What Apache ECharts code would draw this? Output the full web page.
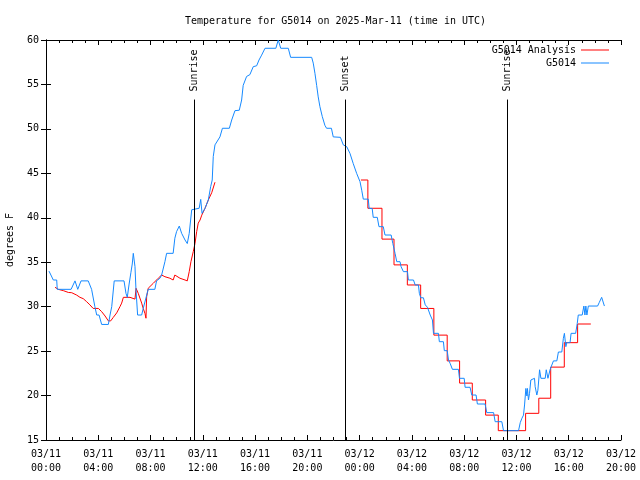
<!DOCTYPE html>
<html>
<head>
<meta charset="utf-8">
<script src="https://cdn.jsdelivr.net/npm/echarts@6/dist/echarts.min.js"></script>
<style>
  html, body { margin: 0; padding: 0; background: #fff; }
  #chart { width: 640px; height: 480px; }
</style>
</head>
<body>
<div id="chart"></div>
<script>
// hours since 2025-03-11 00:00 UTC
const xTickLabels = ['03/11\n00:00','03/11\n04:00','03/11\n08:00','03/11\n12:00','03/11\n16:00','03/11\n20:00',
                     '03/12\n00:00','03/12\n04:00','03/12\n08:00','03/12\n12:00','03/12\n16:00','03/12\n20:00'];

// G5014 Analysis (early part, continuous line)
const analysisEarly = [
  [0.69,32.18],[0.94,31.95],[1.33,31.8],[1.71,31.6],[1.97,31.57],[2.35,31.3],[2.6,31.05],[2.85,30.9],
  [3.11,30.56],[3.36,30.2],[3.61,29.8],[4.01,29.8],[4.26,29.44],[4.52,28.95],[4.77,28.4],[4.95,28.4],
  [5.15,28.8],[5.41,29.3],[5.66,30.0],[5.79,30.4],[5.92,31.05],[6.43,31.05],[6.81,30.85],[6.89,32.07],
  [7.06,31.5],[7.32,30.4],[7.44,29.8],[7.57,29.25],[7.65,28.7],[7.7,31.1],[7.82,32.07],[8.21,32.63],
  [8.59,33.2],[8.85,33.56],[9.1,33.37],[9.48,33.2],[9.73,33.0],[9.86,33.56],[10.25,33.2],[10.64,33.0],
  [10.81,32.9],[10.96,33.94],[11.09,35.06],[11.27,36.2],[11.4,37.1],[11.53,38.44],[11.65,39.4],
  [11.79,39.75],[11.92,40.3],[12.17,41.07],[12.42,42.0],[12.68,42.82],[12.93,44.0]
];

// G5014 Analysis (later part, hourly steps: [start hour, value])
const analysisSteps = [
  [24.1,44.25],[24.63,41.07],[25.71,37.6],[26.63,34.7],[27.65,32.44],[28.67,29.8],[29.68,26.8],
  [30.7,23.9],[31.65,21.4],[32.62,19.5],[33.64,17.8],[34.61,16.05],[36.7,18.0],[37.71,19.7],
  [38.62,23.2],[39.66,25.95],[40.68,28.05],[41.69,28.05]
];

// G5014 observations
const obs = [
  [0.23,34.0],[0.56,33.0],[0.82,33.0],[0.86,31.95],[1.92,31.95],[2.22,32.9],[2.43,31.95],[2.68,32.9],
  [3.23,32.9],[3.49,31.95],[3.74,30.0],[3.88,29.06],[4.06,29.06],[4.26,28.0],[4.77,28.0],[4.9,29.06],
  [5.03,30.0],[5.22,32.9],[5.97,32.9],[6.12,31.5],[6.22,31.05],[6.35,32.44],[6.5,33.87],[6.6,34.8],
  [6.68,36.0],[6.81,34.5],[6.88,32.07],[7.01,29.06],[7.32,29.06],[7.44,29.8],[7.82,31.95],[8.33,31.95],
  [8.46,32.9],[8.72,33.2],[8.85,33.56],[9.1,35.06],[9.23,36.0],[9.73,36.0],[9.86,37.7],[9.99,38.44],
  [10.2,39.07],[10.38,38.25],[10.64,37.5],[10.81,37.1],[10.96,38.25],[11.15,40.9],[11.22,41.07],
  [11.72,41.07],[11.84,42.07],[11.94,40.5],[12.17,41.07],[12.42,42.0],[12.6,43.5],[12.72,44.25],
  [12.8,46.9],[12.93,48.2],[13.31,49.1],[13.5,50.07],[14.03,50.07],[14.21,51.0],[14.46,52.05],
  [14.79,52.1],[14.97,53.25],[15.09,54.9],[15.35,55.9],[15.6,56.1],[15.86,57.0],[16.12,57.1],
  [16.3,57.75],[16.5,58.3],[16.76,59.07],[17.59,59.07],[17.77,60.0],[17.96,59.07],[18.54,59.07],
  [18.72,58.05],[20.33,58.05],[20.45,57.4],[20.58,56.25],[20.71,54.9],[20.83,53.6],[20.96,52.5],
  [21.14,51.4],[21.34,50.4],[21.47,50.07],[21.84,50.07],[21.98,49.1],[22.53,49.05],[22.75,48.2],
  [23.01,48.0],[23.26,47.25],[23.51,46.1],[23.77,45.0],[24.03,44.06],[24.16,43.1],[24.28,42.1],
  [24.66,42.1],[24.73,41.05],[24.96,41.05],[25.04,40.05],[25.35,40.05],[25.48,39.0],[25.81,39.0],
  [25.94,38.06],[26.41,38.06],[26.54,37.1],[26.71,36.0],[26.84,35.06],[27.09,35.06],[27.17,34.5],
  [27.35,33.94],[27.66,33.94],[27.73,33.0],[28.12,33.0],[28.25,32.44],[28.5,32.44],[28.57,31.5],
  [28.68,31.0],[28.88,31.0],[29.02,30.2],[29.19,29.93],[29.4,29.06],[29.57,28.5],[29.65,27.0],
  [30.03,27.0],[30.1,26.06],[30.41,26.06],[30.48,25.05],[30.7,25.05],[30.8,24.0],[30.93,23.6],
  [31.1,22.95],[31.56,22.95],[31.64,21.94],[32.0,21.94],[32.07,20.93],[32.45,20.93],[32.58,20.06],
  [32.91,20.06],[33.01,19.05],[33.6,19.05],[33.73,18.08],[34.25,18.08],[34.37,17.06],[34.88,17.06],
  [35.01,16.05],[36.16,16.05],[36.29,16.95],[36.42,17.45],[36.54,17.8],[36.62,18.94],[36.72,20.8],
  [36.8,19.95],[36.84,20.8],[36.92,19.5],[37.0,20.25],[37.1,21.75],[37.25,21.94],[37.38,21.94],
  [37.43,21.0],[37.56,20.06],[37.64,20.6],[37.77,22.9],[37.87,21.94],[38.2,21.94],[38.28,22.9],
  [38.41,21.94],[38.58,22.95],[38.83,23.9],[39.09,23.9],[39.21,24.9],[39.47,24.9],[39.59,26.44],
  [39.67,27.0],[39.78,25.5],[39.85,25.95],[40.1,25.95],[40.18,27.0],[40.53,27.0],[40.65,28.1],
  [40.73,29.06],[41.03,29.06],[41.16,30.07],[41.24,29.06],[41.31,30.07],[41.39,29.06],[41.5,30.07],
  [42.21,30.07],[42.33,30.45],[42.52,31.05],[42.73,30.07]
];

// Sun events (hour, label)
const sunHours = [11.35, 22.9, 35.29];
const sunLabels = ['Sunrise', 'Sunset', 'Sunrise'];
const sunLineTop = 53.3;

const FONT = 'DejaVu Sans Mono';
const RED = '#ff0000';
const BLUE = '#1589ff';

const chart = echarts.init(document.getElementById('chart'), null, { renderer: 'canvas' });

const axisCommon = {
  axisLine: { show: true, lineStyle: { color: '#000', width: 1 } },
  splitLine: { show: false }
};

const option = {
  backgroundColor: '#fff',
  animation: false,
  textStyle: { fontFamily: FONT },
  title: {
    text: 'Temperature for G5014 on 2025-Mar-11 (time in UTC)',
    left: 180, top: 11,
    textStyle: { fontFamily: FONT, fontSize: 10, fontWeight: 'normal', color: '#000' }
  },
  legend: {
    orient: 'vertical',
    right: 31, top: 44, padding: 0,
    align: 'right',
    icon: 'rect',
    itemWidth: 28, itemHeight: 1, itemGap: 1,
    data: ['G5014 Analysis', 'G5014'],
    textStyle: { fontFamily: FONT, fontSize: 10, color: '#000', lineHeight: 12 }
  },
  grid: { left: 46, right: 19, top: 40, bottom: 40, outerBoundsMode: 'none', containLabel: false },
  xAxis: [
    Object.assign({}, axisCommon, {
      type: 'value', min: 0, max: 44, interval: 4, position: 'bottom',
      axisTick: { show: true, inside: true, length: 5, lineStyle: { color: '#000' } },
      minorTick: { show: true, splitNumber: 4, length: 3, lineStyle: { color: '#000' } },
      minorSplitLine: { show: false },
      axisLabel: {
        margin: 7, color: '#000', fontFamily: FONT, fontSize: 10, lineHeight: 14,
        formatter: function (v) { return xTickLabels[Math.round(v / 4)] || ''; }
      }
    }),
    Object.assign({}, axisCommon, {
      type: 'value', min: 0, max: 44, interval: 4, position: 'top',
      axisTick: { show: true, inside: true, length: 5, lineStyle: { color: '#000' } },
      minorTick: { show: true, splitNumber: 4, length: 3, lineStyle: { color: '#000' } },
      minorSplitLine: { show: false },
      axisLabel: { show: false }
    })
  ],
  yAxis: [
    Object.assign({}, axisCommon, {
      type: 'value', min: 15, max: 60, interval: 5, position: 'left',
      name: 'degrees F', nameLocation: 'middle', nameGap: 31, nameRotate: 90,
      nameTextStyle: { fontFamily: FONT, fontSize: 10, color: '#000' },
      axisTick: { show: true, inside: true, length: 5, lineStyle: { color: '#000' } },
      axisLabel: { margin: 7, color: '#000', fontFamily: FONT, fontSize: 10 }
    }),
    Object.assign({}, axisCommon, {
      type: 'value', min: 15, max: 60, interval: 5, position: 'right',
      axisTick: { show: true, inside: true, length: 5, lineStyle: { color: '#000' } },
      axisLabel: { show: false }
    })
  ],
  series: [
    {
      name: 'G5014 Analysis', type: 'line', data: analysisEarly,
      symbol: 'none', lineStyle: { color: RED, width: 1 }, itemStyle: { color: RED },
      z: 2
    },
    {
      name: 'G5014 Analysis', type: 'line', data: analysisSteps, step: 'end',
      symbol: 'none', lineStyle: { color: RED, width: 1 }, itemStyle: { color: RED },
      z: 2
    },
    {
      name: 'G5014', type: 'line', data: obs,
      symbol: 'none', lineStyle: { color: BLUE, width: 1 }, itemStyle: { color: BLUE },
      z: 3,
      markLine: {
        silent: true, symbol: ['none', 'none'],
        lineStyle: { color: '#000', width: 1, type: 'solid' },
        label: { show: false },
        data: sunHours.map(h => [{ coord: [h, 15] }, { coord: [h, sunLineTop] }])
      },
      markPoint: {
        silent: true, symbol: 'circle', symbolSize: 0,
        itemStyle: { color: 'transparent' },
        data: sunHours.map((h, i) => ({
          coord: [h, sunLineTop], value: sunLabels[i],
          label: {
            show: true, formatter: sunLabels[i], position: 'top', distance: 8,
            rotate: 90, align: 'left', verticalAlign: 'middle',
            fontFamily: FONT, fontSize: 10, color: '#000'
          }
        }))
      }
    }
  ]
};

chart.setOption(option);
</script>
</body>
</html>
